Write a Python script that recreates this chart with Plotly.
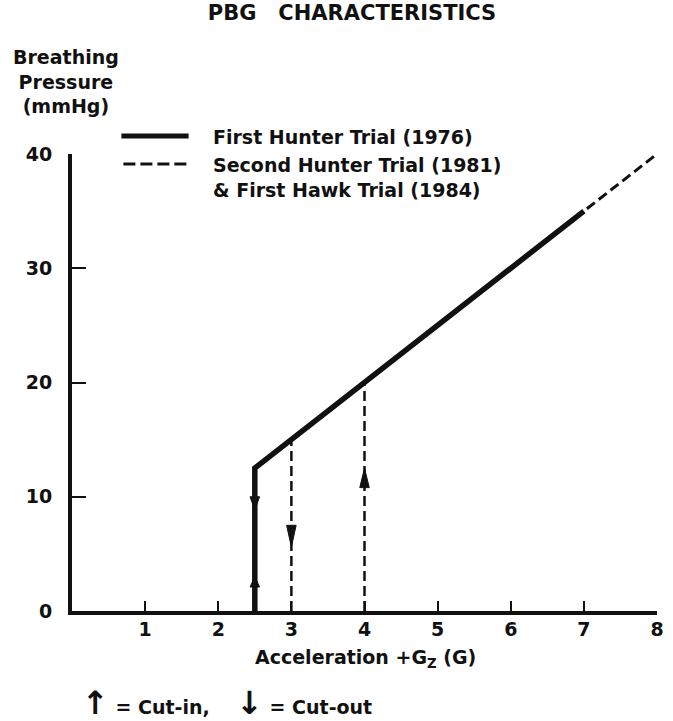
import plotly.graph_objects as go

# ---------------- data ----------------
chart_title = "PBG&nbsp;&nbsp; CHARACTERISTICS"
y_label_lines = ["Breathing", "Pressure", "(mmHg)"]
x_label = "Acceleration +G<sub>Z</sub> (G)"
series_names = ["First Hunter Trial (1976)",
                "Second Hunter Trial (1981)<br>& First Hawk Trial (1984)"]

# First Hunter Trial (1976) schedule
first_x = [2.5, 2.5, 7.0]
first_y = [0.0, 12.5, 35.0]

# Second Hunter Trial (1981) & First Hawk Trial (1984) schedule
second_x = [3.0, 8.0]
second_y = [15.0, 40.0]

# dashed cut-out / cut-in verticals of second schedule
cut_x = [3.0, 4.0]
cut_top = [15.0, 20.0]

# arrow heads (x, tip value, base value)
arrow_x = [2.5, 2.5, 3.0, 4.0]
arrow_tip = [3.0, 8.85, 5.6, 12.5]
arrow_base = [2.1, 10.0, 7.5, 10.8]

x_ticks = [1, 2, 3, 4, 5, 6, 7, 8]
y_ticks = [0, 10, 20, 30, 40]

note_text = ("<span style='font-size:32px'>↑</span> = Cut-in,&nbsp;&nbsp;&nbsp; "
             "<span style='font-size:32px'>↓</span> = Cut-out")

FONT = "DejaVu Sans"
INK = "#111111"
FS = 19

fig = go.Figure()

# dashed verticals
vx, vy = [], []
for xv, top in zip(cut_x, cut_top):
    vx += [xv, xv, None]
    vy += [0, top, None]
fig.add_trace(go.Scatter(x=vx, y=vy, mode="lines", cliponaxis=False,
                         line=dict(color=INK, width=2.5, dash="10px,5px"),
                         showlegend=False, hoverinfo="skip"))

# second schedule (dashed)
fig.add_trace(go.Scatter(x=second_x, y=second_y, mode="lines", cliponaxis=False,
                         name=series_names[1],
                         line=dict(color=INK, width=3, dash="10px,5px"),
                         showlegend=False))

# first schedule (solid)
fig.add_trace(go.Scatter(x=first_x, y=first_y, mode="lines", cliponaxis=False,
                         name=series_names[0],
                         line=dict(color=INK, width=5.5),
                         showlegend=False))

# arrow heads as filled triangles
hw = 0.065
ax_, ay_ = [], []
for xv, tip, base in zip(arrow_x, arrow_tip, arrow_base):
    ax_ += [xv - hw, xv + hw, xv, xv - hw, None]
    ay_ += [base, base, tip, base, None]
fig.add_trace(go.Scatter(x=ax_, y=ay_, mode="lines", fill="toself",
                         fillcolor=INK, line=dict(color=INK, width=1),
                         showlegend=False, hoverinfo="skip", cliponaxis=False))

# ---------------- layout ----------------
L, R, T, B = 72, 9, 154, 110
W, H = 673, 721
pw, ph = W - L - R, H - T - B

def px_x(p):
    return (p - L) / pw

def px_y(p):
    return (H - B - p) / ph

fig.update_layout(
    width=W, height=H,
    margin=dict(l=L, r=R, t=T, b=B),
    paper_bgcolor="white", plot_bgcolor="white",
    font=dict(family=FONT, color=INK, size=FS),
    title=dict(text=chart_title, x=352 / W, xanchor="center", xref="container",
               y=1 - 13 / H, yanchor="middle", yref="container",
               font=dict(family=FONT, size=21, weight="bold", color=INK)),
    showlegend=False,
)

fig.update_xaxes(range=[0, 8], tickvals=x_ticks, ticktext=[str(v) for v in x_ticks],
                 showgrid=False, zeroline=False, showline=True, linecolor=INK,
                 linewidth=4, ticks="inside", ticklen=10, tickwidth=2, tickcolor=INK,
                 tickfont=dict(family=FONT, size=FS, weight="bold", color=INK),
                 ticklabelstandoff=-2)
fig.update_yaxes(range=[0, 40], tickvals=y_ticks, ticktext=[str(v) for v in y_ticks],
                 showgrid=False, zeroline=False, showline=True, linecolor=INK,
                 linewidth=4, ticks="inside", ticklen=14, tickwidth=2, tickcolor=INK,
                 tickfont=dict(family=FONT, size=FS, weight="bold", color=INK),
                 ticklabelstandoff=12)

# legend keys
fig.add_shape(type="line", xref="paper", yref="paper",
              x0=px_x(122), x1=px_x(190), y0=px_y(136), y1=px_y(136),
              line=dict(color=INK, width=5))
fig.add_shape(type="line", xref="paper", yref="paper",
              x0=px_x(124), x1=px_x(190), y0=px_y(164), y1=px_y(164),
              line=dict(color=INK, width=3, dash="12px,5px"))
fig.add_annotation(x=px_x(213), y=px_y(137), xref="paper", yref="paper",
                   xanchor="left", yanchor="middle", showarrow=False,
                   text=series_names[0], align="left",
                   font=dict(family=FONT, size=FS, weight="bold", color=INK))
fig.add_annotation(x=px_x(213), y=px_y(177), xref="paper", yref="paper",
                   xanchor="left", yanchor="middle", showarrow=False,
                   text=series_names[1], align="left",
                   font=dict(family=FONT, size=FS, weight="bold", color=INK))

# y-axis label
fig.add_annotation(x=px_x(66), y=px_y(82), xref="paper", yref="paper",
                   xanchor="center", yanchor="middle", showarrow=False,
                   text="<br>".join(y_label_lines), align="center",
                   font=dict(family=FONT, size=FS, weight="bold", color=INK))

# x-axis label
fig.add_annotation(x=px_x(369), y=px_y(658), xref="paper", yref="paper",
                   xanchor="center", yanchor="middle", showarrow=False,
                   text=x_label,
                   font=dict(family=FONT, size=FS, weight="bold", color=INK))

# cut-in / cut-out note
fig.add_annotation(x=px_x(80), y=px_y(703), xref="paper", yref="paper",
                   xanchor="left", yanchor="middle", showarrow=False,
                   text=note_text, align="left",
                   font=dict(family=FONT, size=FS, weight="bold", color=INK))

fig.write_html("out.html", config={"displayModeBar": False},
               post_script="document.body.style.margin='0';document.body.style.padding='0';")
